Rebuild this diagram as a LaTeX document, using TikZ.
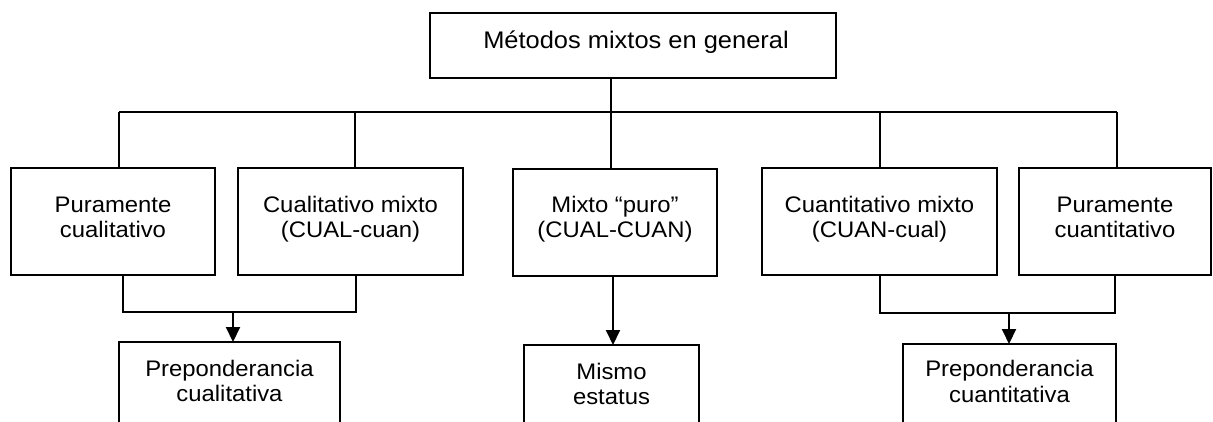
\documentclass[tikz,border=0pt]{standalone}
\usepackage{fontspec}
\setmainfont{Liberation Sans}[FakeStretch=1.06]
\usetikzlibrary{arrows.meta}
\begin{document}
\begin{tikzpicture}[x=1pt,y=-1pt,
  box/.style={draw=black, line width=1.8pt, inner sep=0pt, outer sep=0pt},
  txt/.style={font=\fontsize{22.5}{25.6}\selectfont, align=center, anchor=base, inner sep=0pt},
  ttl/.style={font=\fontsize{24}{26}\selectfont, anchor=base, inner sep=0pt},
  conn/.style={line width=1.1pt},
  arr/.style={line width=2pt, -{Triangle[length=15pt,width=14pt]}}]
\useasboundingbox (0,0) rectangle (1213,421);
\clip (0,0) rectangle (1213,421);
% title
\node[box, minimum width=406pt, minimum height=65pt] (top) at (633,45.5) {};
\node[ttl] (ttop) at (636,48.5) {Métodos mixtos en general};
% row boxes
\node[box, minimum width=204pt, minimum height=107pt] (b1) at (113,221.5) {};
\node[box, minimum width=225pt, minimum height=107pt] (b2) at (350.5,221.5) {};
\node[box, minimum width=204pt, minimum height=107pt] (b3) at (615,222.5) {};
\node[box, minimum width=235pt, minimum height=107pt] (b4) at (879.5,221.5) {};
\node[box, minimum width=192pt, minimum height=107pt] (b5) at (1115,221.5) {};
\node[txt] (t1) at (113,237.6) {Puramente\\cualitativo};
\node[txt] (t2) at (350.5,237.6) {Cualitativo mixto\\(CUAL-cuan)};
\node[txt] (t3) at (615,237.6) {Mixto “puro”\\(CUAL-CUAN)};
\node[txt] (t4) at (879.5,237.6) {Cuantitativo mixto\\(CUAN-cual)};
\node[txt] (t5) at (1115,237.6) {Puramente\\cuantitativo};
% bottom boxes
\node[box, minimum width=221pt, minimum height=110pt] (p1) at (229.5,397) {};
\node[box, minimum width=175pt, minimum height=110pt] (p2) at (611.5,400) {};
\node[box, minimum width=213pt, minimum height=110pt] (p3) at (1009.5,399) {};
\node[txt] (s1) at (229.5,401.6) {Preponderancia\\cualitativa};
\node[txt] (s2) at (611.5,404.6) {Mismo\\estatus};
\node[txt] (s3) at (1009.5,402.1) {Preponderancia\\cuantitativa};
% bus
\coordinate (m) at (611,112);
\coordinate (h1) at (119,112);
\coordinate (h2) at (355,112);
\coordinate (h4) at (880,112);
\coordinate (h5) at (1117,112);
\draw[conn] (m |- top.south) -- (m |- b3.north);
\draw[conn] (h1) -- (h5);
\draw[conn] (h1) -- (h1 |- b1.north);
\draw[conn] (h2) -- (h2 |- b2.north);
\draw[conn] (h4) -- (h4 |- b4.north);
\draw[conn] (h5) -- (h5 |- b5.north);
% left join
\coordinate (l1) at (123,312);
\coordinate (l2) at (356,312);
\coordinate (j1) at (233,312);
\draw[conn] (l1 |- b1.south) -- (l1) -- (l2) -- (l2 |- b2.south);
\draw[arr] (j1) -- (j1 |- p1.north);
% middle
\coordinate (j2) at (613,0);
\draw[arr] (j2 |- b3.south) -- (j2 |- p2.north);
% right join
\coordinate (r1) at (880,313);
\coordinate (r2) at (1115,313);
\coordinate (j3) at (1009,313);
\draw[conn] (r1 |- b4.south) -- (r1) -- (r2) -- (r2 |- b5.south);
\draw[arr] (j3) -- (j3 |- p3.north);
\end{tikzpicture}
\end{document}
